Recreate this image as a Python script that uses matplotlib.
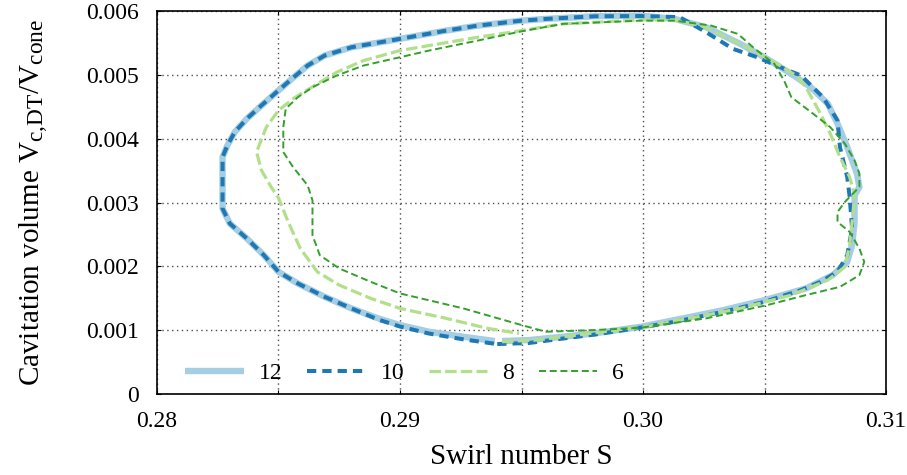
import numpy as np
import matplotlib
matplotlib.use("Agg")
import matplotlib.pyplot as plt
import matplotlib._mathtext as mathtext_core
from matplotlib.ticker import MultipleLocator, FuncFormatter

plt.rcParams['font.family'] = ['Liberation Serif', 'DejaVu Serif']
plt.rcParams['mathtext.fontset'] = 'custom'
plt.rcParams['mathtext.rm'] = 'Liberation Serif'
plt.rcParams['mathtext.it'] = 'Liberation Serif:italic'
# subscripts in the label are a bit larger than matplotlib's default
mathtext_core.SHRINK_FACTOR = 0.8

# swirl number S / cavitation volume (x1e-3), one trajectory per case
s_12 = [0.2942, 0.2953, 0.2967, 0.2980, 0.2999, 0.3013, 0.3033, 0.3050, 0.3067, 0.3078,
        0.3084, 0.3086, 0.3087, 0.3087, 0.3089, 0.3088, 0.3084, 0.3080, 0.3076, 0.3069,
        0.3062, 0.3051, 0.3040, 0.3026, 0.3013, 0.2999, 0.2980, 0.2960, 0.2950, 0.2932,
        0.2919, 0.2900, 0.2880, 0.2869, 0.2862, 0.2856, 0.2850, 0.2843, 0.2837, 0.2832,
        0.2829, 0.2827, 0.2827, 0.2827, 0.2827, 0.2830, 0.2837, 0.2844, 0.2850, 0.2858,
        0.2869, 0.2880, 0.2891, 0.2900, 0.2912, 0.2926, 0.2939]
v_12 = [0.833, 0.848, 0.900, 0.953, 1.056, 1.161, 1.317, 1.473, 1.656, 1.864,
        2.072, 2.333, 2.697, 3.114, 3.244, 3.453, 3.869, 4.234, 4.547, 4.806,
        4.989, 5.250, 5.484, 5.744, 5.875, 5.927, 5.916, 5.875, 5.848, 5.770,
        5.692, 5.563, 5.431, 5.302, 5.145, 4.953, 4.755, 4.520, 4.313, 4.103,
        3.895, 3.713, 3.400, 3.036, 2.906, 2.672, 2.438, 2.177, 1.916, 1.734,
        1.525, 1.344, 1.188, 1.083, 0.978, 0.900, 0.833]

s_10 = [0.2940, 0.2953, 0.2967, 0.2980, 0.2999, 0.3013, 0.3033, 0.3050, 0.3065, 0.3073,
        0.3080, 0.3084, 0.3086, 0.3085, 0.3084, 0.3081, 0.3080, 0.3074, 0.3065, 0.3058,
        0.3047, 0.3037, 0.3026, 0.3015, 0.2999, 0.2980, 0.2960, 0.2950, 0.2932,
        0.2919, 0.2900, 0.2880, 0.2869, 0.2862, 0.2856, 0.2850, 0.2843, 0.2837, 0.2832,
        0.2829, 0.2827, 0.2827, 0.2827, 0.2827, 0.2830, 0.2837, 0.2844, 0.2850, 0.2858,
        0.2869, 0.2880, 0.2891, 0.2900, 0.2912, 0.2926, 0.2939]
v_10 = [0.786, 0.802, 0.872, 0.934, 1.044, 1.134, 1.291, 1.447, 1.630, 1.759,
        1.916, 2.177, 2.594, 3.088, 3.400, 3.869, 4.286, 4.650, 4.989, 5.094,
        5.275, 5.406, 5.666, 5.903, 5.920, 5.916, 5.875, 5.848, 5.770,
        5.692, 5.563, 5.431, 5.302, 5.145, 4.953, 4.755, 4.520, 4.313, 4.103,
        3.895, 3.713, 3.400, 3.036, 2.906, 2.672, 2.438, 2.177, 1.916, 1.734,
        1.525, 1.344, 1.170, 1.060, 0.950, 0.860, 0.790]

s_8 = [0.2942, 0.2956, 0.2973, 0.2994, 0.2999, 0.3019, 0.3040, 0.3061, 0.3076, 0.3083,
       0.3085, 0.3086, 0.3087, 0.3085, 0.3081, 0.3077, 0.3073, 0.3067, 0.3063, 0.3054,
       0.3040, 0.3024, 0.3013, 0.2999, 0.2967, 0.2950, 0.2932, 0.2912, 0.2900, 0.2885,
       0.2874, 0.2866, 0.2856, 0.2850, 0.2845, 0.2841, 0.2843, 0.2847, 0.2850, 0.2854,
       0.2859, 0.2866, 0.2875, 0.2888, 0.2900, 0.2919, 0.2936, 0.2949]
v_8 = [0.822, 0.848, 0.927, 1.031, 1.041, 1.188, 1.344, 1.552, 1.786, 1.994,
       2.333, 2.697, 3.114, 3.400, 3.713, 4.078, 4.390, 4.806, 4.989, 5.197,
       5.484, 5.770, 5.859, 5.859, 5.797, 5.692, 5.588, 5.458, 5.380, 5.223,
       5.041, 4.859, 4.625, 4.442, 4.181, 3.791, 3.505, 3.244, 3.075, 2.697,
       2.281, 1.916, 1.708, 1.500, 1.344, 1.188, 1.031, 0.953]

s_6 = [0.2960, 0.2980, 0.2999, 0.3026, 0.3051, 0.3067, 0.3081, 0.3089, 0.3091, 0.3089,
       0.3085, 0.3080, 0.3080, 0.3083, 0.3087, 0.3089, 0.3089, 0.3087, 0.3083, 0.3077,
       0.3070, 0.3061, 0.3058, 0.3054, 0.3046, 0.3039, 0.3028, 0.3013, 0.2999, 0.2967,
       0.2950, 0.2932, 0.2912, 0.2900, 0.2885, 0.2874, 0.2864, 0.2858, 0.2853, 0.2852,
       0.2852, 0.2856, 0.2862, 0.2864, 0.2864, 0.2864, 0.2867, 0.2875, 0.2888, 0.2900,
       0.2926, 0.2950, 0.2960]
v_6 = [0.978, 1.005, 1.041, 1.188, 1.395, 1.552, 1.681, 1.864, 2.072, 2.281,
       2.541, 2.697, 2.853, 3.009, 3.166, 3.244, 3.453, 3.661, 3.922, 4.181,
       4.390, 4.650, 4.911, 5.172, 5.406, 5.641, 5.770, 5.848, 5.848, 5.797,
       5.681, 5.536, 5.380, 5.275, 5.145, 4.989, 4.806, 4.650, 4.469, 4.181,
       3.791, 3.556, 3.270, 3.036, 2.853, 2.489, 2.177, 1.969, 1.759, 1.578,
       1.344, 1.083, 0.978]

fig = plt.figure(figsize=(9.07, 4.75), dpi=100)
ax = fig.add_axes([0.173, 0.170, 0.804, 0.807])

kw = dict(solid_joinstyle='round', dash_joinstyle='round')
ax.plot(s_12, np.array(v_12) * 1e-3, color='#a6cee3', lw=4.6, solid_capstyle='butt', label='12', **kw)
ax.plot(s_10, np.array(v_10) * 1e-3, color='#1f78b4', lw=2.9, ls=(0, (2.3, 1.5)), label='10', **kw)
ax.plot(s_8, np.array(v_8) * 1e-3, color='#b2df8a', lw=2.3, ls=(0, (3.6, 1.3)), label='8', **kw)
ax.plot(s_6, np.array(v_6) * 1e-3, color='#33a02c', lw=1.4, ls=(0, (3.6, 1.9)), label='6', **kw)

ax.set_xlim(0.28, 0.31)
ax.set_ylim(0, 0.006)
ax.xaxis.set_major_locator(MultipleLocator(0.01))
ax.xaxis.set_minor_locator(MultipleLocator(0.005))
ax.yaxis.set_major_locator(MultipleLocator(0.001))
ax.xaxis.set_major_formatter(FuncFormatter(lambda v, p: f"{v:.2f}"))
ax.yaxis.set_major_formatter(FuncFormatter(lambda v, p: "0" if abs(v) < 1e-9 else f"{v:.3f}"))
ax.tick_params(which='both', direction='in', length=3, width=0.8, top=True, right=True,
               labelsize=17)
ax.tick_params(axis='y', pad=13)
ax.tick_params(axis='x', pad=12)
ax.grid(which='both', color='0.3', lw=1, ls=(0, (1, 2.5)))
for sp in ax.spines.values():
    sp.set_linewidth(1.2)

ax.set_xlabel('Swirl number S', fontsize=21, labelpad=9)
ax.set_ylabel(r'Cavitation volume V$_{\mathrm{c{,}DT}}$/V$_{\mathrm{cone}}$', fontsize=21, labelpad=26)

ax.legend(loc='lower left', bbox_to_anchor=(0.01, -0.03), ncol=4, frameon=False, fontsize=17,
          handlelength=2.46, handletextpad=0.64, columnspacing=1.06)

fig.savefig('out.png', dpi=100)
